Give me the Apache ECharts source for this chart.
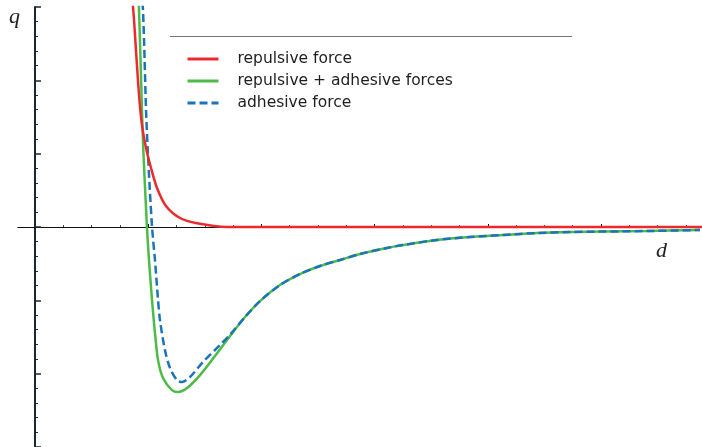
<!DOCTYPE html>
<html>
<head>
<meta charset="utf-8">
<script src="https://cdn.jsdelivr.net/npm/echarts@6/dist/echarts.min.js"></script>
<style>html,body{margin:0;padding:0;background:#fff;}#c{width:702px;height:447px;}</style>
</head>
<body>
<div id="c"></div>
<script>
// Values (d, q)
const seriesNames = ['repulsive force', 'repulsive + adhesive forces', 'adhesive force'];
const repulsive = [
  [0.839, 3.30], [0.866, 3.0], [0.892, 2.415], [0.919, 1.801], [0.945, 1.392],
  [0.981, 1.078], [1.025, 0.805], [1.078, 0.532], [1.157, 0.287],
  [1.281, 0.123], [1.431, 0.050], [1.696, 0.0], [5.892, 0.0]
];
const combined = [
  [0.910, 3.23], [0.919, 2.96], [0.945, 1.596], [0.957, 1.050], [0.989, 0.0],
  [1.007, -0.450], [1.034, -0.996], [1.060, -1.446], [1.087, -1.815], [1.131, -2.060],
  [1.210, -2.224], [1.263, -2.251], [1.343, -2.196], [1.458, -2.019], [1.590, -1.760],
  [1.723, -1.487], [1.855, -1.228], [1.988, -1.010], [2.164, -0.791], [2.341, -0.641],
  [2.518, -0.532], [2.694, -0.450], [2.871, -0.368], [3.110, -0.286], [3.251, -0.246],
  [3.551, -0.177], [3.843, -0.136], [4.134, -0.109], [4.435, -0.082], [4.726, -0.068],
  [5.018, -0.062], [5.406, -0.055], [5.874, -0.041]
];
const adhesive = [
  [0.936, 3.23], [0.954, 2.96], [0.981, 1.596], [0.996, 1.050], [1.034, 0.0],
  [1.060, -0.450], [1.087, -0.996], [1.104, -1.269], [1.148, -1.678], [1.193, -1.924],
  [1.254, -2.087], [1.299, -2.115], [1.369, -2.046], [1.484, -1.842], [1.634, -1.610],
  [1.723, -1.467], [1.855, -1.228], [1.988, -1.010], [2.164, -0.791], [2.341, -0.641],
  [2.518, -0.532], [2.694, -0.450], [2.871, -0.368], [3.110, -0.286], [3.251, -0.246],
  [3.551, -0.177], [3.843, -0.136], [4.134, -0.109], [4.435, -0.082], [4.726, -0.068],
  [5.018, -0.062], [5.406, -0.055], [5.874, -0.041]
];
const xMajorTicks = [1, 2, 3, 4, 5];
const xMinorTicks = [0.25, 0.5, 0.75, 1.25, 1.5, 1.75, 2.25, 2.5, 2.75, 3.25, 3.5, 3.75,
  4.25, 4.5, 4.75, 5.25, 5.5, 5.75];

const chart = echarts.init(document.getElementById('c'), null, {renderer: 'canvas'});
const gridBox = {left: 18, right: 0, top: 7, bottom: 0, containLabel: false};
const xCommon = {
  type: 'value', min: -0.15, max: 5.892,
  axisLine: {onZero: true, lineStyle: {color: '#111', width: 1}},
  axisLabel: {show: false}, splitLine: {show: false}
};
const lineSeries = (name, data, color, type) => ({
  name, type: 'line', data, showSymbol: false, symbol: 'none', smooth: 0.3,
  xAxisIndex: 0, yAxisIndex: 0,
  lineStyle: {color, width: 2.5, type: type || 'solid'}, itemStyle: {color}
});
chart.setOption({
  animation: false,
  grid: [Object.assign({}, gridBox), Object.assign({}, gridBox)],
  xAxis: [
    Object.assign({}, xCommon, {gridIndex: 0,
      axisTick: {show: true, inside: true, length: 3, customValues: xMajorTicks, lineStyle: {color: '#111', width: 1}}
    }),
    Object.assign({}, xCommon, {gridIndex: 1,
      axisTick: {show: true, inside: true, length: 2, customValues: xMinorTicks, lineStyle: {color: '#444', width: 1}}
    })
  ],
  yAxis: [
    {
      gridIndex: 0, type: 'value', min: -3, max: 3, interval: 1,
      axisLine: {onZero: true, lineStyle: {color: '#1a2830', width: 2}},
      axisTick: {show: true, inside: true, length: 6, lineStyle: {color: '#1a2830', width: 1.5}},
      minorTick: {show: true, splitNumber: 5, length: 3, lineStyle: {color: '#1a2830', width: 1}},
      axisLabel: {show: false}, splitLine: {show: false}
    },
    {
      gridIndex: 1, type: 'value', min: -3, max: 3, interval: 1,
      axisLine: {show: false, onZero: true}, axisTick: {show: false},
      axisLabel: {show: false}, splitLine: {show: false}
    }
  ],
  legend: {
    orient: 'vertical', left: 181, top: 46, itemWidth: 31, itemHeight: 14, itemGap: 6,
    itemStyle: {opacity: 0, color: 'transparent', borderWidth: 0},
    lineStyle: {width: 3},
    textStyle: {fontFamily: 'DejaVu Sans', fontSize: 15.5, color: '#1e1e1e', padding: [0, 0, 0, 14]},
    data: seriesNames
  },
  graphic: [
    {type: 'line', shape: {x1: 170, y1: 36.5, x2: 572, y2: 36.5}, style: {stroke: '#777', lineWidth: 1.2}},
    {type: 'text', left: 9, top: 6, style: {text: 'q', font: 'italic 22px "Liberation Serif"', fill: '#222'}},
    {type: 'text', left: 656, top: 240, style: {text: 'd', font: 'italic 22px "Liberation Serif"', fill: '#222'}}
  ],
  series: [
    lineSeries(seriesNames[1], combined, '#4dbb47'),
    lineSeries(seriesNames[2], adhesive, '#1b73b9', [8, 4]),
    lineSeries(seriesNames[0], repulsive, '#ec2a2e')
  ]
});
</script>
</body>
</html>
